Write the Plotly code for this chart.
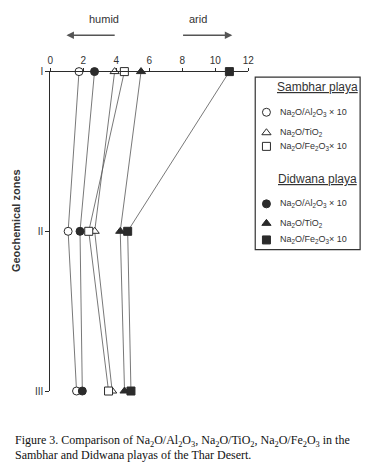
import plotly.graph_objects as go

# ---------------- data ----------------
zones = ["I", "II", "III"]
zone_pos = [1, 2, 3]
x_ticks = [0, 2, 4, 6, 8, 10, 12]

sambhar_al = [1.74, 1.08, 1.59]
sambhar_ti = [3.90, 2.69, 3.75]
sambhar_fe = [4.49, 2.33, 3.53]
didwana_al = [2.68, 1.80, 1.94]
didwana_ti = [5.50, 4.24, 4.50]
didwana_fe = [10.86, 4.69, 4.89]

legend_labels = [
    "Na<sub>2</sub>O/Al<sub>2</sub>O<sub>3</sub> × 10",
    "Na<sub>2</sub>O/TiO<sub>2</sub>",
    "Na<sub>2</sub>O/Fe<sub>2</sub>O<sub>3</sub>× 10",
]

W, H = 371, 475
DARK = "#2b2b2b"
LINE = "#555555"
FONT = "Liberation Sans, Arial, sans-serif"

fig = go.Figure()

series = [
    (sambhar_al, "circle", "white", 8),
    (sambhar_ti, "triangle-up", "white", 8),
    (sambhar_fe, "square", "white", 8),
    (didwana_al, "circle", DARK, 8),
    (didwana_ti, "triangle-up", DARK, 8),
    (didwana_fe, "square", DARK, 8),
]
for vals, sym, fill, sz in series:
    fig.add_trace(go.Scatter(
        x=vals, y=zone_pos, mode="lines+markers",
        line=dict(color=LINE, width=0.8),
        marker=dict(symbol=sym, size=sz, color=fill,
                    line=dict(color=DARK, width=1)),
        cliponaxis=False, showlegend=False, xaxis="x", yaxis="y"))

# legend symbols (pixel overlay axes)
leg_x = [270, 270, 270, 270, 270, 270]
leg_y = [109, 130, 144, 203, 223, 240]
leg_sym = ["circle", "triangle-up", "square", "circle", "triangle-up", "square"]
leg_fill = ["white", "white", "white", DARK, DARK, DARK]
fig.add_trace(go.Scatter(
    x=leg_x, y=leg_y, mode="markers",
    marker=dict(symbol=leg_sym, size=8, color=leg_fill,
                line=dict(color=DARK, width=1)),
    cliponaxis=False, showlegend=False, xaxis="x2", yaxis="y2"))

left, right, top, bottom = 48.5, 251.3, 67.3, 395.0
fig.update_layout(
    width=W, height=H, margin=dict(l=0, r=0, t=0, b=0),
    paper_bgcolor="white", plot_bgcolor="rgba(0,0,0,0)",
    showlegend=False,
    xaxis=dict(domain=[left / W, right / W], range=[0, 12], side="top",
               tickvals=x_ticks, ticktext=[str(v) for v in x_ticks],
               showline=True, linecolor=DARK, linewidth=1,
               ticks="outside", ticklen=3, tickcolor=DARK,
               showgrid=False, zeroline=False,
               tickfont=dict(family=FONT, size=10, color="#333")),
    yaxis=dict(domain=[1 - bottom / H, 1 - top / H], range=[3, 1],
               tickvals=zone_pos, ticktext=zones,
               showline=True, linecolor=DARK, linewidth=1,
               ticks="outside", ticklen=4, tickcolor=DARK,
               showgrid=False, zeroline=False,
               tickfont=dict(family=FONT, size=10, color="#333")),
    xaxis2=dict(domain=[0, 1], range=[0, W], visible=False, anchor="y2"),
    yaxis2=dict(domain=[0, 1], range=[H, 0], visible=False, anchor="x2"),
)

# legend box
fig.add_shape(type="rect", xref="x2", yref="y2", x0=258.5, y0=73, x1=366, y1=250,
              line=dict(color="#333", width=1.2), fillcolor="rgba(0,0,0,0)")

ann = []
def txt(x, y, t, size=9, xanchor="left", family=FONT, color="#333", **kw):
    ann.append(dict(x=x, y=y, xref="x2", yref="y2", text=t, showarrow=False,
                    xanchor=xanchor, yanchor="middle",
                    font=dict(family=family, size=size, color=color), **kw))

txt(322, 83, "<span style='text-decoration:underline'>Sambhar playa</span>", size=12, xanchor="center")
txt(322, 177, "<span style='text-decoration:underline'>Didwana playa</span>", size=12, xanchor="center")
for i, yy in enumerate(leg_y):
    txt(282, yy, legend_labels[i % 3], size=9)

# humid / arid
txt(104, 13, "humid", size=11, xanchor="center")
txt(200, 13, "arid", size=11, xanchor="center")
ann.append(dict(x=65, y=30, ax=116, ay=30, xref="x2", yref="y2", axref="x2", ayref="y2",
                showarrow=True, arrowhead=2, arrowsize=1, arrowwidth=1.5,
                arrowcolor="#555", text=""))
ann.append(dict(x=235, y=30, ax=183, ay=30, xref="x2", yref="y2", axref="x2", ayref="y2",
                showarrow=True, arrowhead=2, arrowsize=1, arrowwidth=1.5,
                arrowcolor="#555", text=""))

# y title
ann.append(dict(x=14, y=220, xref="x2", yref="y2", text="<b>Geochemical zones</b>",
                showarrow=False, textangle=-90, xanchor="center", yanchor="middle",
                font=dict(family=FONT, size=11, color="#333")))

# caption
SERIF = "Liberation Serif, Times New Roman, serif"
txt(10, 446, "Figure 3. Comparison of Na<sub>2</sub>O/Al<sub>2</sub>O<sub>3</sub>, "
    "Na<sub>2</sub>O/TiO<sub>2</sub>, Na<sub>2</sub>O/Fe<sub>2</sub>O<sub>3</sub> in the",
    size=12, family=SERIF, color="#111")
txt(10, 461, "Sambhar and Didwana playas of the Thar Desert.", size=12, family=SERIF, color="#111")

fig.update_layout(annotations=ann)
fig.write_html("out.html",
               config={"displayModeBar": False},
               post_script="document.body.style.margin='0';document.body.style.padding='0';"
                           "document.documentElement.style.overflow='hidden';")
